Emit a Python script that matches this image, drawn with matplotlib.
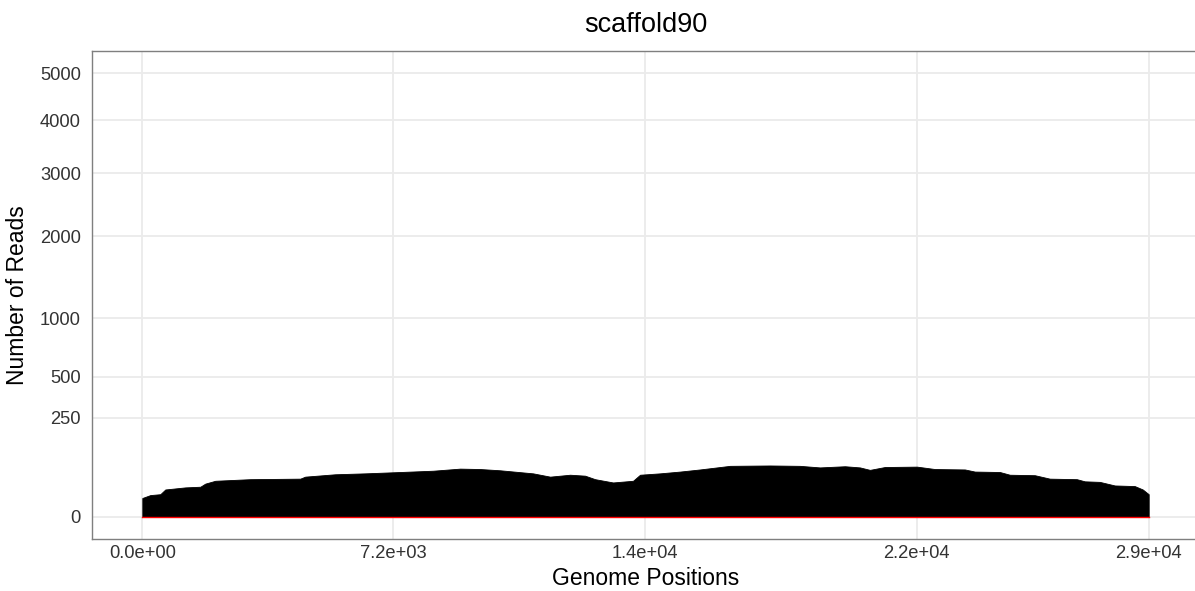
import numpy as np
import matplotlib.pyplot as plt

plt.rcParams['font.family'] = ['Liberation Sans', 'DejaVu Sans']

# coverage profile
positions = [0, 230, 517, 661, 1236, 1668, 1811, 2099, 3105, 4543, 4686, 5549,
             6411, 7418, 8366, 9143, 9718, 10293, 11241, 11730, 12305, 12736,
             13024, 13541, 14116, 14318, 14893, 15468, 16043, 16905, 18055,
             18918, 19493, 20212, 20643, 20930, 21362, 22282, 22799, 23662,
             23949, 24668, 24955, 25674, 26105, 26882, 27112, 27543, 27974,
             28549, 28779, 28950]
reads = [9, 12, 13, 19, 22, 23, 28, 33, 36, 37, 41, 46,
         48, 51, 54, 59, 58, 55, 48, 41, 45, 43,
         36, 30, 33, 45, 48, 52, 57, 66, 67,
         66, 62, 65, 62, 56, 63, 64, 58, 57,
         52, 51, 45, 44, 37, 36, 32, 31, 25,
         24, 19, 13]

x_breaks = [0, 7217, 14461, 22280, 28950]
x_labels = ['0.0e+00', '7.2e+03', '1.4e+04', '2.2e+04', '2.9e+04']
y_breaks = [0, 250, 500, 1000, 2000, 3000, 4000, 5000]

genome_len = 28950


def fwd(v):
    v = np.asarray(v, dtype=float)
    return np.sign(v) * np.sqrt(np.abs(v))


def inv(v):
    v = np.asarray(v, dtype=float)
    return np.sign(v) * v ** 2


fig = plt.figure(figsize=(11.95, 5.91), dpi=100)
ax = fig.add_axes([92 / 1195, 52 / 591, 1107 / 1195, 488 / 591])
ax.set_yscale('function', functions=(fwd, inv))

ax.fill_between(positions, 0, reads, color='black', lw=0.6, edgecolor='black', zorder=2)
ax.plot([positions[0], positions[-1]], [0, 0], color='red', lw=1.0, zorder=3)

# ggplot-like 5% expansion (in sqrt space for y)
ax.set_xlim(-0.05 * genome_len, 1.05 * genome_len)
top = np.sqrt(5000)
ax.set_ylim(-(0.05 * top) ** 2, (1.05 * top) ** 2)

ax.set_xticks(x_breaks)
ax.set_xticklabels(x_labels)
ax.set_yticks(y_breaks)
ax.set_yticklabels([str(v) for v in y_breaks])
ax.minorticks_off()

ax.grid(True, color='#ebebeb', lw=1.3)
ax.set_axisbelow(True)
ax.tick_params(length=0, labelsize=13.2, labelcolor='#333333')
ax.tick_params(axis='y', pad=8)
ax.tick_params(axis='x', pad=4)

for side in ['left', 'bottom', 'top']:
    ax.spines[side].set_color('#7f7f7f')
    ax.spines[side].set_linewidth(1.0)
ax.spines['right'].set_visible(False)

ax.set_xlabel('Genome Positions', fontsize=16.5, labelpad=4)
ax.set_ylabel('Number of Reads', fontsize=16.5, labelpad=8)
ax.set_title('scaffold90', fontsize=19.5, pad=14)

fig.savefig('out.png', dpi=100)
